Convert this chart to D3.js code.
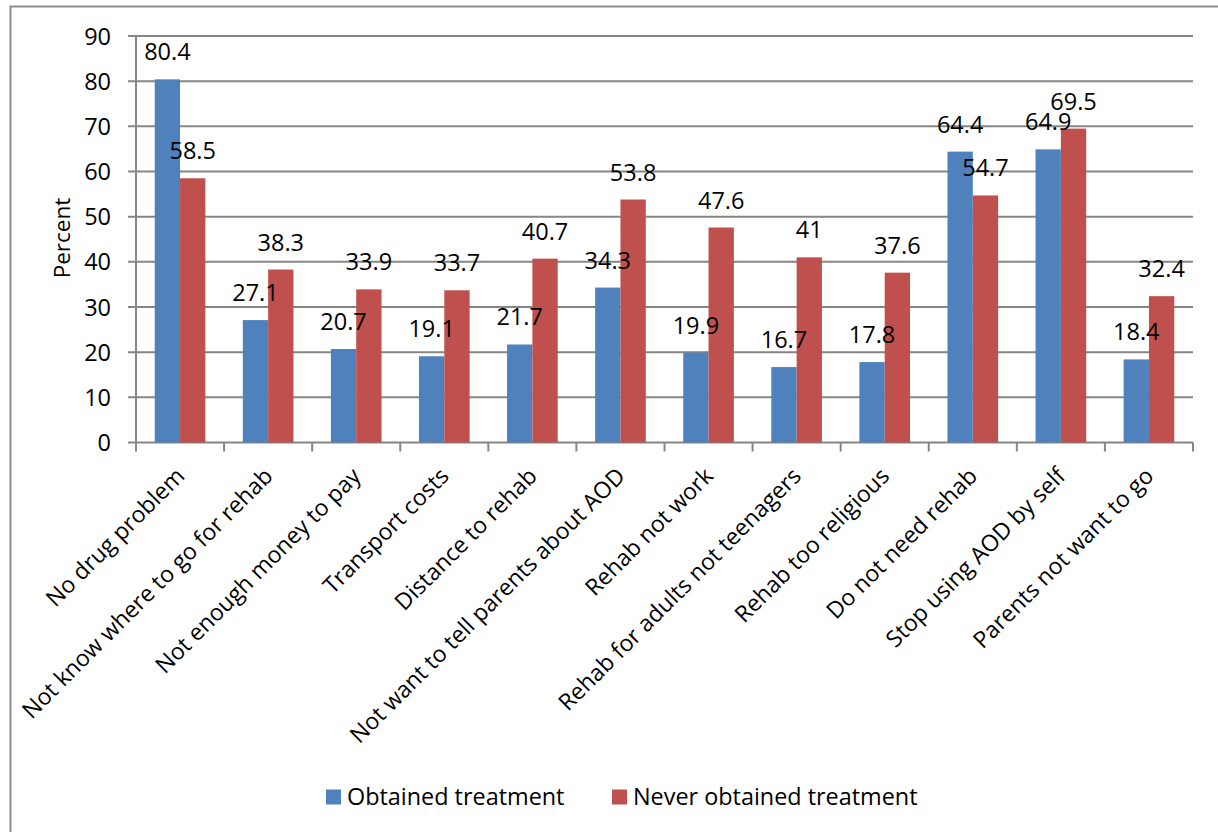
<!DOCTYPE html>
<html><head><meta charset="utf-8">
<script src="https://cdn.jsdelivr.net/npm/d3@7"></script>
<style>body{margin:0;background:#fff;} svg{display:block;font-family:"Open Sans",sans-serif;}</style>
</head><body><svg id="c" width="1218" height="832"></svg>
<script>
const categories = ["No drug problem","Not know where to go for rehab","Not enough money to pay","Transport costs","Distance to rehab","Not want to tell parents about AOD","Rehab not work","Rehab for adults not teenagers","Rehab too religious","Do not need rehab","Stop using AOD by self","Parents not want to go"];
const obtained = [80.4,27.1,20.7,19.1,21.7,34.3,19.9,16.7,17.8,64.4,64.9,18.4];
const neverObtained = [58.5,38.3,33.9,33.7,40.7,53.8,47.6,41,37.6,54.7,69.5,32.4];
const seriesNames = ["Obtained treatment","Never obtained treatment"];
const colors = ["#4F81BD","#C0504D"];
const yTicks = [0,10,20,30,40,50,60,70,80,90];

const svg = d3.select("#c");
const L=136, R=1193, T=36, B=442.5;
svg.append("rect").attr("x",10.5).attr("y",6.5).attr("width",1230).attr("height",900).attr("fill","none").attr("stroke","#8c8c8c").attr("stroke-width",2);

const x0 = d3.scaleBand().domain(categories).range([L,R]).paddingInner(0.425).paddingOuter(0.2125);
const x1 = d3.scaleBand().domain(seriesNames).range([0,x0.bandwidth()]);
const y = d3.scaleLinear().domain([0,90]).range([B,T]);
const step = (R-L)/categories.length;

// gridlines
svg.append("g").selectAll("line").data(yTicks).join("line")
  .attr("x1",L-8).attr("x2",R).attr("y1",d=>y(d)).attr("y2",d=>y(d))
  .attr("stroke","#868686").attr("stroke-width",2);
// y axis line
svg.append("line").attr("x1",L).attr("x2",L).attr("y1",T).attr("y2",B+8).attr("stroke","#868686").attr("stroke-width",2);
// x ticks
svg.append("g").selectAll("line").data(d3.range(categories.length+1)).join("line")
  .attr("x1",i=>L+i*step).attr("x2",i=>L+i*step).attr("y1",B).attr("y2",B+9)
  .attr("stroke","#868686").attr("stroke-width",2);
// y labels
svg.append("g").selectAll("text").data(yTicks).join("text")
  .attr("x",111).attr("y",d=>y(d)+8.5).attr("text-anchor","end").attr("font-size",23.5).attr("fill","#000").text(d=>d);
svg.append("text").attr("transform","translate(70,238) rotate(-90)").attr("text-anchor","middle").attr("font-size",22.5).text("Percent");

const data = categories.map((c,i)=>({c, vals:[obtained[i],neverObtained[i]]}));
const g = svg.append("g").selectAll("g").data(data).join("g").attr("transform",d=>`translate(${x0(d.c)},0)`);
g.selectAll("rect").data(d=>d.vals.map((v,j)=>({v,s:seriesNames[j],j}))).join("rect")
  .attr("x",d=>x1(d.s)).attr("width",x1.bandwidth()).attr("y",d=>y(d.v)).attr("height",d=>B-y(d.v))
  .attr("fill",d=>colors[d.j]);
g.selectAll("text").data(d=>d.vals.map((v,j)=>({v,s:seriesNames[j],j}))).join("text")
  .attr("x",d=>x1(d.s)+x1.bandwidth()/2).attr("y",d=>y(d.v)-19).attr("text-anchor","middle")
  .attr("font-size",23.5).attr("fill","#000").text(d=>d.v);

// category labels
svg.append("g").selectAll("text").data(categories).join("text")
  .attr("transform",(d,i)=>`translate(${L+(i+0.5)*step+6},${B+35}) rotate(-45)`)
  .attr("text-anchor","end").attr("font-size",23).attr("fill","#000").text(d=>d);

// legend
const lg = svg.append("g");
const lx = [326,612];
seriesNames.forEach((s,i)=>{
  lg.append("rect").attr("x",lx[i]).attr("y",789.5).attr("width",15).attr("height",15).attr("fill",colors[i]);
  lg.append("text").attr("x",lx[i]+21).attr("y",804.5).attr("font-size",23.4).text(s);
});
</script></body></html>
